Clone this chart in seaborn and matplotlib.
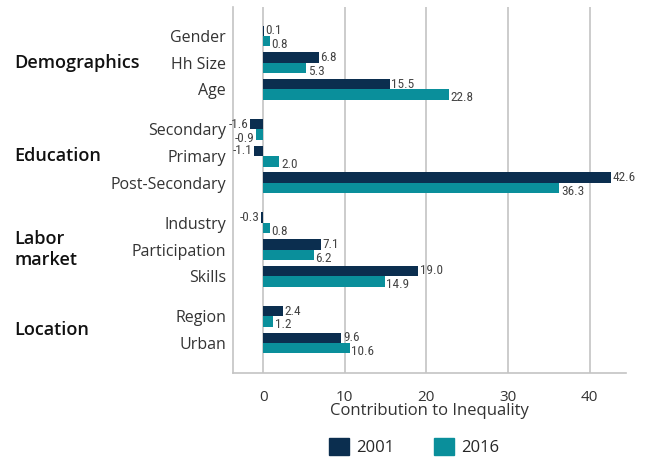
import matplotlib
matplotlib.use("Agg")
import matplotlib.pyplot as plt
import matplotlib.transforms as mtransforms
import seaborn as sns
import pandas as pd
from matplotlib.patches import Patch
from matplotlib import font_manager

groups = ["Demographics", "Education", "Labor\nmarket", "Location"]
group_members = [
    ["Gender", "Hh Size", "Age"],
    ["Secondary", "Primary", "Post-Secondary"],
    ["Industry", "Participation", "Skills"],
    ["Region", "Urban"],
]
categories = ["Gender", "Hh Size", "Age", "Secondary", "Primary", "Post-Secondary",
              "Industry", "Participation", "Skills", "Region", "Urban"]
values_2001 = [0.1, 6.8, 15.5, -1.6, -1.1, 42.6, -0.3, 7.1, 19.0, 2.4, 9.6]
values_2016 = [0.8, 5.3, 22.8, -0.9, 2.0, 36.3, 0.8, 6.2, 14.9, 1.2, 10.6]
years = ["2001", "2016"]
xticks = [0, 10, 20, 30, 40]

# layout positions (gap of 1.5 slots between groups)
pos = {}
p = 0.0
for gi, mem in enumerate(group_members):
    if gi > 0:
        p += 0.5
    for m in mem:
        pos[m] = p
        p += 1.0

rows = []
for c, v1, v2 in zip(categories, values_2001, values_2016):
    rows.append({"cat": c, "pos": pos[c], "year": "2001", "value": v1})
    rows.append({"cat": c, "pos": pos[c], "year": "2016", "value": v2})
df = pd.DataFrame(rows)

navy = "#0b2e4f"
teal = "#0a8f9b"
palette = {"2001": navy, "2016": teal}

sns.set_style("white")
plt.rcParams["font.family"] = ["Open Sans", "DejaVu Sans"]

# pick a narrow font for value labels if available
names = {f.name for f in font_manager.fontManager.ttflist}
narrow_fam = None
for cand in ["Liberation Sans Narrow", "Roboto Condensed", "Open Sans Condensed", "DejaVu Sans Condensed"]:
    if cand in names:
        narrow_fam = cand
        break
if narrow_fam is None:
    narrow_kw = dict(family=["DejaVu Sans"], fontstretch="condensed")
else:
    narrow_kw = dict(family=[narrow_fam, "DejaVu Sans"])

fig = plt.figure(figsize=(6.47, 4.61), dpi=100)
ax = fig.add_axes([0.360, 0.191, 0.608, 0.794])

sns.barplot(data=df, x="value", y="pos", hue="year", orient="h", native_scale=True,
            palette=palette, width=0.78, ax=ax, legend=False, saturation=1,
            hue_order=years, errorbar=None, linewidth=0)

ax.set_xlim(-3.7, 44.5)
ax.set_ylim(12.62, -1.09)

for x in xticks:
    ax.axvline(x, color="#c4c4c4", lw=1.2, zorder=0)
ax.set_xticks(xticks)
ax.set_xticklabels([str(t) for t in xticks], fontsize=11, color="#333333")
ax.tick_params(axis="x", length=6, color="#c4c4c4", width=1.2, pad=6)
ax.set_yticks([pos[c] for c in categories])
ax.set_yticklabels(categories, fontsize=11.5, color="#333333")
ax.tick_params(axis="y", length=0, pad=5)
ax.set_ylabel("")
ax.set_xlabel("Contribution to Inequality", fontsize=12, color="#333333", labelpad=-1)

for s in ["top", "right"]:
    ax.spines[s].set_visible(False)
for s in ["left", "bottom"]:
    ax.spines[s].set_color("#c4c4c4")
    ax.spines[s].set_linewidth(1.2)

# value labels
off = 0.2
for c, v1, v2 in zip(categories, values_2001, values_2016):
    for v, dy, ly in ((v1, -off, 0.0), (v2, off, 0.12)):
        y = pos[c] + dy + ly
        if v >= 0:
            ax.text(v + 0.2, y, f"{v:.1f}", ha="left", va="center",
                    fontsize=9.5, color="#444444", **narrow_kw)
        else:
            ax.text(v - 0.15, y, f"{v:.1f}", ha="right", va="center",
                    fontsize=9.5, color="#444444", **narrow_kw)

# group labels
trans = mtransforms.blended_transform_factory(fig.transFigure, ax.transData)
for g, mem in zip(groups, group_members):
    ys = [pos[m] for m in mem]
    yc = (min(ys) + max(ys)) / 2
    ax.text(0.022, yc, g, transform=trans,
            ha="left", va="center", fontsize=13, fontweight="semibold", color="#111111",
            linespacing=1.25)

handles = [Patch(color=navy, label="2001"), Patch(color=teal, label="2016")]
fig.legend(handles=handles, loc="center", bbox_to_anchor=(0.64, 0.03), ncol=2,
           frameon=False, fontsize=12, handlelength=1.2, handleheight=1.2,
           columnspacing=2.4, handletextpad=0.4)

fig.savefig("out.png", dpi=100)
